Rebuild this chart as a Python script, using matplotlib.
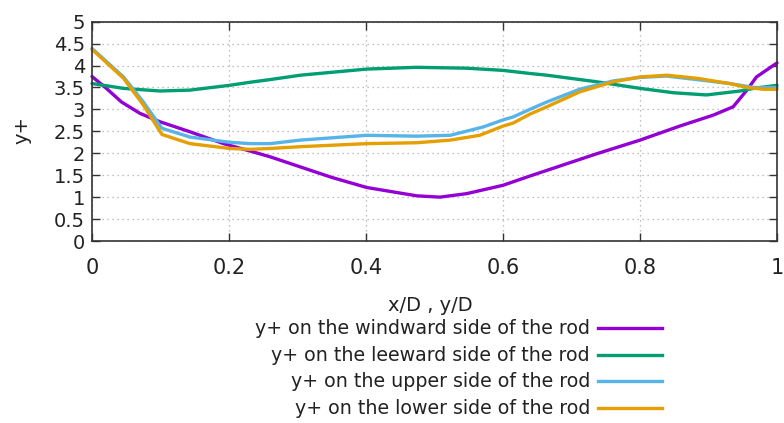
import matplotlib
matplotlib.use("Agg")
import matplotlib.pyplot as plt
from matplotlib.lines import Line2D

plt.rcParams['font.family'] = ['DejaVu Sans']

# y+ along each side of the rod
x_windward = [0.0, 0.021, 0.043, 0.070, 0.099, 0.143, 0.192, 0.231, 0.26, 0.304, 0.35, 0.401,
              0.474, 0.508, 0.547, 0.6, 0.639, 0.664, 0.737, 0.8, 0.858, 0.907, 0.936, 0.956,
              0.97, 0.985, 1.0]
y_windward = [3.75, 3.48, 3.17, 2.91, 2.72, 2.49, 2.22, 2.05, 1.92, 1.69, 1.45, 1.22,
              1.03, 1.00, 1.08, 1.27, 1.48, 1.61, 1.99, 2.30, 2.62, 2.87, 3.06, 3.44,
              3.74, 3.90, 4.06]

x_leeward = [0.0, 0.046, 0.099, 0.143, 0.201, 0.231, 0.26, 0.304, 0.401, 0.474, 0.547, 0.6,
             0.639, 0.664, 0.737, 0.8, 0.849, 0.897, 0.946, 0.966, 1.0]
y_leeward = [3.59, 3.48, 3.42, 3.44, 3.55, 3.62, 3.68, 3.78, 3.92, 3.96, 3.94, 3.89,
             3.82, 3.78, 3.63, 3.48, 3.38, 3.33, 3.42, 3.48, 3.55]

x_upper = [0.0, 0.046, 0.075, 0.102, 0.143, 0.201, 0.231, 0.26, 0.304, 0.401, 0.474, 0.523,
           0.571, 0.6, 0.615, 0.639, 0.664, 0.712, 0.761, 0.8, 0.839, 0.883, 0.931, 0.966,
           1.0]
y_upper = [4.39, 3.74, 3.17, 2.57, 2.37, 2.25, 2.22, 2.22, 2.30, 2.41, 2.39, 2.41,
           2.60, 2.76, 2.83, 3.00, 3.17, 3.46, 3.65, 3.73, 3.76, 3.68, 3.59, 3.50,
           3.50]

x_lower = [0.0, 0.046, 0.075, 0.102, 0.143, 0.201, 0.231, 0.26, 0.304, 0.401, 0.474, 0.523,
           0.566, 0.6, 0.615, 0.639, 0.664, 0.712, 0.761, 0.8, 0.839, 0.883, 0.931, 0.956,
           0.98, 1.0]
y_lower = [4.37, 3.71, 3.10, 2.43, 2.22, 2.11, 2.09, 2.11, 2.15, 2.22, 2.24, 2.30,
           2.41, 2.62, 2.69, 2.89, 3.06, 3.40, 3.63, 3.74, 3.78, 3.71, 3.59, 3.50,
           3.46, 3.46]

series_labels = [
    "y+ on the windward side of the rod",
    "y+ on the leeward side of the rod",
    "y+ on the upper side of the rod",
    "y+ on the lower side of the rod",
]
series_colors = ["#9400d3", "#009e73", "#56b4e9", "#e69f00"]

x_ticks = [0, 0.2, 0.4, 0.6, 0.8, 1]
x_tick_labels = ["0", "0.2", "0.4", "0.6", "0.8", "1"]
y_ticks = [0, 0.5, 1, 1.5, 2, 2.5, 3, 3.5, 4, 4.5, 5]
y_tick_labels = ["0", "0.5", "1", "1.5", "2", "2.5", "3", "3.5", "4", "4.5", "5"]

fig = plt.figure(figsize=(7.84, 4.23), dpi=100)
ax = fig.add_axes([92 / 784, 1 - 241 / 423, 685 / 784, (241 - 21.7) / 423])

data = [(x_windward, y_windward), (x_leeward, y_leeward),
        (x_upper, y_upper), (x_lower, y_lower)]
for (xs, ys), c in zip(data, series_colors):
    ax.plot(xs, ys, color=c, lw=2.4, solid_joinstyle='round', solid_capstyle='round',
            clip_on=False)

ax.set_xlim(0, 1)
ax.set_ylim(0, 5)
ax.set_xticks(x_ticks)
ax.set_xticklabels(x_tick_labels)
ax.set_yticks(y_ticks)
ax.set_yticklabels(y_tick_labels)
ax.tick_params(axis='x', direction='in', length=6, width=1, colors='#333333',
               labelcolor='#222222', labelsize=15, pad=12, top=True)
ax.tick_params(axis='y', direction='in', length=6, width=1, colors='#333333',
               labelcolor='#222222', labelsize=14, pad=5, right=True)
ax.grid(True, linestyle=(0, (1, 3)), color='#aaaaaa', lw=0.9)
ax.set_axisbelow(True)
for s in ax.spines.values():
    s.set_color('#333333')
    s.set_linewidth(1.2)

fig.text(22 / 784, 1 - 130 / 423, "y+", rotation=90, ha='center', va='center',
         fontsize=14, color='#222222')
fig.text(430 / 784, 1 - 305 / 423, "x/D , y/D", ha='center', va='center',
         fontsize=14, color='#222222')

# gnuplot-style key: right-aligned text with sample line to its right
legend_y = [328, 355, 381, 408]
for lbl, c, py in zip(series_labels, series_colors, legend_y):
    fy = 1 - py / 423
    fig.text(590 / 784, fy, lbl, ha='right', va='center', fontsize=13.7, color='#222222')
    fig.add_artist(Line2D([598 / 784, 662 / 784], [fy, fy], color=c, lw=2.4,
                          transform=fig.transFigure))

fig.savefig("out.png", dpi=100)
